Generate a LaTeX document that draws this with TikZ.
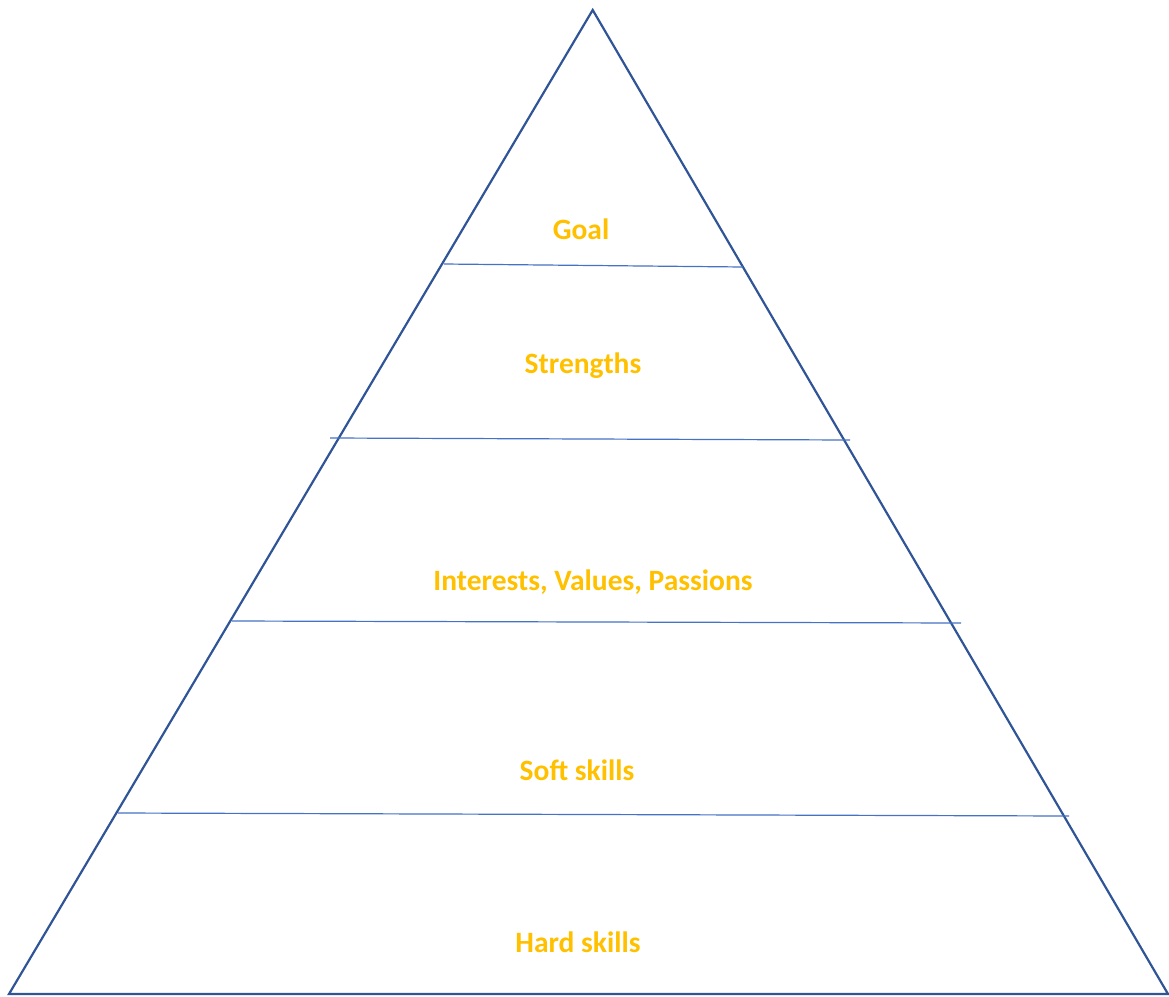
\documentclass[tikz,border=0pt]{standalone}
\usepackage{fontspec}
\setmainfont{Carlito}
\definecolor{outl}{HTML}{2F5597}
\definecolor{inl}{HTML}{4472C4}
\definecolor{lab}{HTML}{FFC000}
\begin{document}
\begin{tikzpicture}[x=1pt,y=-1pt,
  lbl/.style={text=lab,font=\bfseries\fontsize{29.5}{34}\selectfont,inner sep=0pt,anchor=center},
  tier/.style={draw=inl,line width=1.2pt},
  outline/.style={draw=outl,line width=2.2pt,line join=miter}]
\useasboundingbox (0,0) rectangle (1169,996);
\coordinate (apex) at (592.7,10);
\coordinate (bl) at (9,994);
\coordinate (br) at (1168,994);
\draw[outline] (bl) -- (apex) -- (br) -- cycle;
\coordinate (l1a) at (444,264); \coordinate (l1b) at (743,267);
\coordinate (l2a) at (330,438); \coordinate (l2b) at (850,440);
\coordinate (l3a) at (232,621); \coordinate (l3b) at (961,623);
\coordinate (l4a) at (118,813); \coordinate (l4b) at (1069,816);
\draw[tier] (l1a) -- (l1b);
\draw[tier] (l2a) -- (l2b);
\draw[tier] (l3a) -- (l3b);
\draw[tier] (l4a) -- (l4b);
\node[lbl] (goal) at (581,229) {Goal};
\node[lbl] (str) at (583,366) {Strengths};
\node[lbl] (ivp) at (593,582) {Interests, Values, Passions};
\node[lbl] (soft) at (577,770) {Soft skills};
\node[lbl] (hard) at (578,942) {Hard skills};
\end{tikzpicture}
\end{document}
